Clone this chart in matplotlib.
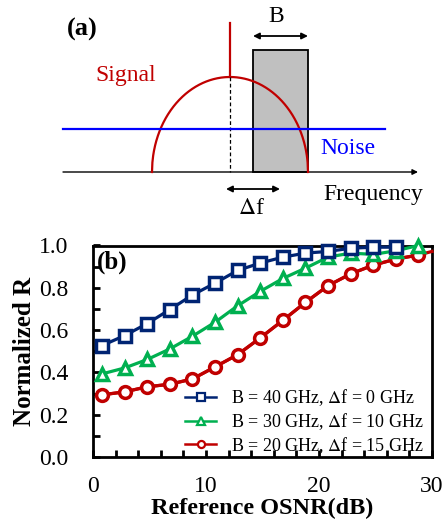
import numpy as np
import matplotlib.pyplot as plt
from matplotlib.ticker import MultipleLocator

plt.rcParams['font.family'] = ['Liberation Serif', 'DejaVu Serif']
plt.rcParams['mathtext.fontset'] = 'stix'

# panel (b) data
osnr = [0.8, 2.8, 4.8, 6.8, 8.8, 10.8, 12.8, 14.8, 16.8, 18.8, 20.8, 22.8, 24.8, 26.8, 28.8]
r_b40 = [0.527, 0.574, 0.631, 0.697, 0.766, 0.822, 0.882, 0.917, 0.945, 0.964, 0.972, 0.987, 0.992, 0.992]
r_b30 = [0.393, 0.421, 0.461, 0.511, 0.571, 0.637, 0.715, 0.783, 0.844, 0.893, 0.945, 0.964, 0.958, 0.975, 1.0]
r_b20 = [0.294, 0.308, 0.332, 0.344, 0.369, 0.426, 0.484, 0.563, 0.646, 0.731, 0.810, 0.866, 0.907, 0.936, 0.955]
r_b20_end = (30.0, 0.972)  # line runs on to the frame
labels = ['B = 40 GHz, $\\Delta$f = 0 GHz',
          'B = 30 GHz, $\\Delta$f = 10 GHz',
          'B = 20 GHz, $\\Delta$f = 15 GHz']
colors = ['#002473', '#00b050', '#c00000']

# panel (a) schematic, in pixel units of the figure
sig_center, sig_halfwidth, sig_height = 230, 78, 95
base_y, base_x0, base_x1 = 172, 63, 418
filt_x0, filt_x1, filt_top = 253, 308, 50
noise_y, noise_x1 = 129, 385
spike_top = 23

fig = plt.figure(figsize=(4.45, 5.29), dpi=100)

# ---------- (a) ----------
ax = fig.add_axes([0, 1 - 230 / 529, 1, 230 / 529])
ax.set_xlim(0, 445)
ax.set_ylim(230, 0)
ax.axis('off')

ax.annotate('', xy=(base_x1, base_y), xytext=(base_x0, base_y),
            arrowprops=dict(arrowstyle='-|>', color='black', lw=1.0,
                            mutation_scale=8, shrinkA=0, shrinkB=0))
ax.add_patch(plt.Rectangle((filt_x0, filt_top), filt_x1 - filt_x0, base_y - filt_top,
                           facecolor='#c0c0c0', edgecolor='black', lw=1.3, zorder=2))
u = np.linspace(-1, 1, 400)
ax.plot(sig_center + sig_halfwidth * u, base_y - sig_height * np.sqrt(1 - u ** 2),
        color='#c00000', lw=1.6, zorder=3)
ax.plot([sig_center, sig_center], [spike_top, base_y - sig_height], color='#c00000', lw=1.6, zorder=3)
ax.plot([sig_center, sig_center], [base_y - sig_height, base_y], color='black', lw=0.9,
        ls=(0, (3, 2)), zorder=3)
ax.plot([base_x0, noise_x1], [noise_y, noise_y], color='#0000ff', lw=1.6, zorder=4)

ax.annotate('', xy=(filt_x0, 36), xytext=(filt_x1, 36),
            arrowprops=dict(arrowstyle='<|-|>', color='black', lw=1.3, mutation_scale=9,
                            shrinkA=0, shrinkB=0))
ax.annotate('', xy=(226, 189), xytext=(280, 189),
            arrowprops=dict(arrowstyle='<|-|>', color='black', lw=1.3, mutation_scale=9,
                            shrinkA=0, shrinkB=0))
ax.text(67, 29, '(a)', fontsize=19, fontweight='bold', va='center', ha='left')
ax.text(276, 16, 'B', fontsize=17, va='center', ha='center')
ax.text(95, 75, 'Signal', fontsize=17, color='#c00000', va='center', ha='left')
ax.text(320, 148, 'Noise', fontsize=17, color='#0000ff', va='center', ha='left')
ax.text(323, 195, 'Frequency', fontsize=17, va='center', ha='left')
ax.text(251, 209, r'$\Delta$f', fontsize=17, va='center', ha='center')

# ---------- (b) ----------
axb = fig.add_axes([93 / 445, (529 - 457) / 529, 339 / 445, 211.5 / 529])
kw = dict(lw=2.3, markersize=8.5, markeredgewidth=2.5, markerfacecolor='white', clip_on=False)
axb.plot(osnr[:len(r_b40)], r_b40, marker='s', color=colors[0], label=labels[0], zorder=5, **kw)
axb.plot(osnr[:len(r_b30)], r_b30, marker='^', color=colors[1], label=labels[1], zorder=4, **kw)
axb.plot(osnr[:len(r_b20)] + [r_b20_end[0]], r_b20 + [r_b20_end[1]], color=colors[2],
         lw=2.3, zorder=3, clip_on=False)
axb.plot(osnr[:len(r_b20)], r_b20, marker='o', color=colors[2], label=labels[2], zorder=3, **kw)

axb.set_xlim(0, 30)
axb.set_ylim(0, 1.0)
axb.xaxis.set_major_locator(MultipleLocator(10))
axb.xaxis.set_minor_locator(MultipleLocator(2))
axb.yaxis.set_major_locator(MultipleLocator(0.2))
axb.yaxis.set_minor_locator(MultipleLocator(0.1))
axb.yaxis.set_major_formatter(plt.FuncFormatter(lambda v, p: f'{v:.1f}'))
axb.tick_params(which='both', direction='in', width=2, labelsize=17, top=False, right=False)
axb.tick_params(which='major', length=5)
axb.tick_params(which='minor', length=5)
axb.tick_params(axis='x', which='major', pad=14)
axb.tick_params(axis='y', which='major', pad=18)
for s in axb.spines.values():
    s.set_linewidth(2)
axb.set_xlabel('Reference OSNR(dB)', fontsize=17.5, fontweight='bold', labelpad=0)
axb.set_ylabel('Normalized R', fontsize=18, fontweight='bold', labelpad=2)
axb.text(0.01, 0.92, '(b)', transform=axb.transAxes, fontsize=18, fontweight='bold',
         va='center', ha='left')
leg = axb.legend(loc='lower right', bbox_to_anchor=(0.985, -0.01), frameon=False, fontsize=13,
                 handlelength=1.7, borderpad=0.2, labelspacing=0.15, handletextpad=0.8,
                 borderaxespad=0, markerscale=0.6)
for h in leg.legend_handles:
    h.set_linewidth(1.8)
    h.set_markeredgewidth(1.6)

fig.savefig('out.png', dpi=100)
